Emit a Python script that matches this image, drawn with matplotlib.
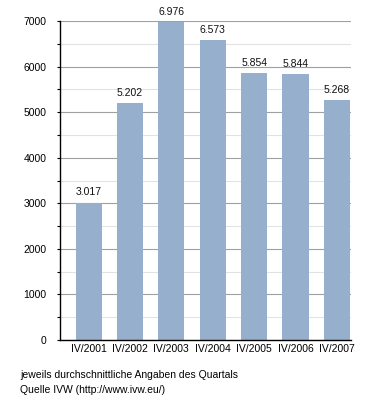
import matplotlib
matplotlib.use("Agg")
import matplotlib.pyplot as plt
from matplotlib.ticker import MultipleLocator

categories = ["IV/2001", "IV/2002", "IV/2003", "IV/2004", "IV/2005", "IV/2006", "IV/2007"]
values = [3017, 5202, 6976, 6573, 5854, 5844, 5268]
value_labels = ["3.017", "5.202", "6.976", "6.573", "5.854", "5.844", "5.268"]
yticks = [0, 1000, 2000, 3000, 4000, 5000, 6000, 7000]
footer_lines = ["jeweils durchschnittliche Angaben des Quartals",
                "Quelle IVW (http://www.ivw.eu/)"]

plt.rcParams['font.family'] = ['Liberation Sans', 'DejaVu Sans']

fig = plt.figure(figsize=(3.8, 4.0), dpi=100)
ax = fig.add_axes([60/380, 1-340/400, (351-60)/380, (340-21)/400])

x = list(range(len(categories)))
ax.bar(x, values, width=0.63, color="#95afcc", zorder=3)
for xi, v, lab in zip(x, values, value_labels):
    ax.text(xi, v + 110, lab, ha="center", va="bottom", fontsize=7.5, color="#111111")

ax.set_xlim(-0.69, 6.34)
ax.set_ylim(0, 7000)
ax.set_yticks(yticks)
ax.yaxis.set_minor_locator(MultipleLocator(500))
ax.set_xticks(x)
ax.set_xticklabels(categories, fontsize=7.5)
ax.tick_params(axis="y", which="major", length=2.5, width=0.8, labelsize=7.5, pad=7)
ax.tick_params(axis="y", which="minor", length=2.5, width=0.8)
ax.tick_params(axis="x", length=0, pad=3)

ax.grid(axis="y", which="major", color="#a0a0a0", linewidth=0.8, zorder=0)
ax.grid(axis="y", which="minor", color="#e2e2e2", linewidth=0.8, zorder=0)
ax.set_axisbelow(True)

for s in ["top", "right"]:
    ax.spines[s].set_visible(False)
for s in ["left", "bottom"]:
    ax.spines[s].set_linewidth(1.0)
    ax.spines[s].set_color("black")
    ax.spines[s].set_zorder(4)

fig.text(20/380, 1-375/400, footer_lines[0], fontsize=7.5, va="center", ha="left")
fig.text(20/380, 1-390/400, footer_lines[1], fontsize=7.5, va="center", ha="left")

fig.savefig("out.png", dpi=100)
